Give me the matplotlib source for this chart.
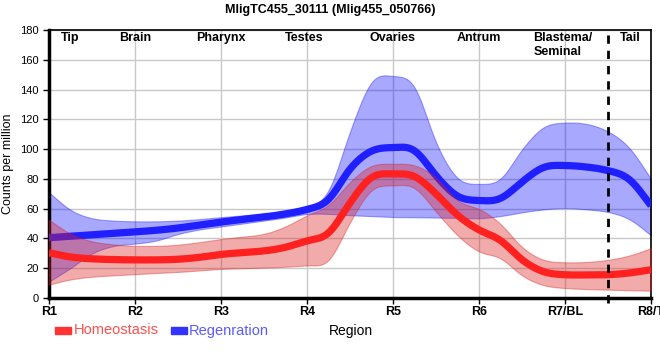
import numpy as np
import matplotlib
matplotlib.use("Agg")
import matplotlib.pyplot as plt
from matplotlib.patches import Rectangle

plt.rcParams['font.family'] = ['Liberation Sans', 'DejaVu Sans']

# posiciones (regiones, paso 0.25) y valores
pos = np.arange(1, 8.01, 0.25)

blue_mean = [40.5, 41.5, 42.5, 43.5, 44.4, 45.5, 47, 49, 51, 52.8, 54.4, 56.5, 59.5, 65.5,
             87, 99, 101, 99.6, 82, 68, 65.5, 66.5, 78, 88, 89, 88, 85.6, 80, 62]
blue_hi = [71, 59, 53.5, 52, 51.5, 51.5, 52, 53, 54.3, 55.5, 56.7, 58.5, 61, 71,
           112, 146, 149, 143, 104, 80, 76.7, 79.5, 100, 115, 117.8, 117, 112, 101, 80]
blue_lo = [11, 20, 30, 35, 36.5, 38.5, 43, 46, 48, 50, 52, 54, 56.5, 56.5,
           55.6, 55, 54.4, 54.2, 54, 53.8, 53.5, 55, 57.5, 59.5, 60.4, 59.5, 57.8, 53, 42]

red_mean = [30.4, 27.5, 26.3, 25.8, 25.6, 25.6, 26, 27.3, 29.3, 30.5, 31.6, 34, 38.5, 43,
            64, 81.5, 83.3, 82, 70, 55.5, 45.6, 39, 25.5, 17.5, 15.6, 15.5, 15.6, 16.8, 19]
red_hi = [52.5, 43, 38, 36, 35, 35, 35.8, 37.5, 39.6, 41.2, 43, 48, 55.6, 62,
          78, 89, 90, 89.3, 81, 65, 60, 50, 34, 25.5, 24, 24.2, 25.6, 28.5, 33.5]
red_lo = [9, 12.5, 14.3, 15.2, 16, 16.8, 17.5, 18.5, 19.5, 20, 20.4, 21, 22, 24.4,
          51, 73, 75.5, 74.4, 58, 42, 31, 27, 15, 8.5, 6.7, 6, 5.6, 5.2, 4.9]

tick_labels = ['R1', 'R2', 'R3', 'R4', 'R5', 'R6', 'R7/BL', 'R8/T']
regiones = ['Tip', 'Brain', 'Pharynx', 'Testes', 'Ovaries', 'Antrum', 'Blastema/\nSeminal', 'Tail']
region_x = [1.24, 2.0, 3.0, 3.97, 5.0, 6.0, 6.63, 7.76]


def suavizar(x, y, n=701, sigma=0.06):
    # curva catmull-rom + un suavizado ligero, solo para el trazo
    x = np.asarray(x, float)
    y = np.asarray(y, float)
    h = np.diff(x)
    m = np.empty_like(y)
    m[1:-1] = (y[2:] - y[:-2]) / (x[2:] - x[:-2])
    m[0] = (y[1] - y[0]) / h[0]
    m[-1] = (y[-1] - y[-2]) / h[-1]
    xs = np.linspace(x[0], x[-1], n)
    i = np.clip(np.searchsorted(x, xs) - 1, 0, len(h) - 1)
    t = (xs - x[i]) / h[i]
    ys = ((2 * t**3 - 3 * t**2 + 1) * y[i] + (t**3 - 2 * t**2 + t) * h[i] * m[i]
          + (-2 * t**3 + 3 * t**2) * y[i + 1] + (t**3 - t**2) * h[i] * m[i + 1])
    dx = xs[1] - xs[0]
    k = np.arange(-int(4 * sigma / dx), int(4 * sigma / dx) + 1) * dx
    kern = np.exp(-0.5 * (k / sigma) ** 2)
    kern /= kern.sum()
    pad = len(k) // 2
    # extender con pendiente en los bordes
    izq = ys[0] - (ys[1] - ys[0]) * np.arange(pad, 0, -1)
    der = ys[-1] + (ys[-1] - ys[-2]) * np.arange(1, pad + 1)
    ys = np.convolve(np.concatenate([izq, ys, der]), kern, mode='valid')
    return xs, ys


fig = plt.figure(figsize=(6.6, 3.6), dpi=100)
ax = fig.add_axes([49 / 660, 1 - 298 / 360, 602 / 660, 268 / 360])

xs, bm = suavizar(pos, blue_mean)
_, bh = suavizar(pos, blue_hi)
_, bl = suavizar(pos, blue_lo)
_, rm = suavizar(pos, red_mean)
_, rh = suavizar(pos, red_hi)
_, rl = suavizar(pos, red_lo)

ax.fill_between(xs, bl, bh, color='#0000ff', alpha=0.34, lw=0.8, edgecolor=(0, 0, 1, 0.35), zorder=2)
ax.plot(xs, bm, color='#1f1fff', lw=5.2, solid_capstyle='butt', zorder=3)
ax.fill_between(xs, rl, rh, color='#dd2222', alpha=0.38, lw=0.8, edgecolor=(0.85, 0.1, 0.1, 0.35), zorder=4)
ax.plot(xs, rm, color='#ff2020', lw=5.2, solid_capstyle='butt', zorder=5)

ax.axvline(7.5, ymin=-0.02, ymax=1, color='black', lw=2, ls=(0, (3, 2.5)), zorder=6, clip_on=False)

ax.set_xlim(1, 8)
ax.set_ylim(0, 180)
ax.set_xticks(range(1, 9))
ax.set_xticklabels(tick_labels, fontsize=9, fontweight='bold',
                   family=['Liberation Sans Narrow', 'Liberation Sans', 'DejaVu Sans'])
ax.set_yticks(range(0, 181, 20))
ax.tick_params(axis='y', labelsize=8, length=4, width=1)
ax.tick_params(axis='x', length=4, width=1, pad=2)
ax.grid(True, color='#c8c8c8', lw=1)
ax.set_axisbelow(True)

for lado in ['left', 'bottom']:
    ax.spines[lado].set_linewidth(2.5)
for lado in ['top', 'right']:
    ax.spines[lado].set_linewidth(1.2)

ax.set_ylabel('Counts per million', fontsize=9)
ax.yaxis.set_label_coords(-35 / 602, 0.5)

for nombre, xr in zip(regiones, region_x):
    ha = 'left' if '\n' in nombre else 'center'
    ax.text(xr, 178.5, nombre, ha=ha, va='top', fontsize=9, fontweight='bold',
            linespacing=1.15, zorder=7)

fig.text(0.5, 1 - 10 / 360, 'MligTC455_30111 (Mlig455_050766)', ha='center', va='center',
         fontsize=9, fontweight='bold')

# leyenda manual
fuente_ley = ['Liberation Sans Narrow', 'Liberation Sans', 'DejaVu Sans']
fig.patches.append(Rectangle((55 / 660, 1 - 334 / 360), 16 / 660, 7 / 360,
                             transform=fig.transFigure, color='#ff3333'))
fig.text(74 / 660, 1 - 330.5 / 360, 'Homeostasis', color='#ff5050', fontsize=10.5,
         va='center', family=fuente_ley)
fig.patches.append(Rectangle((171 / 660, 1 - 334 / 360), 16 / 660, 7 / 360,
                             transform=fig.transFigure, color='#3333ff'))
fig.text(189 / 660, 1 - 330.5 / 360, 'Regenration', color='#5a5aff', fontsize=10.5,
         va='center', family=fuente_ley)
fig.text(351 / 660, 1 - 331 / 360, 'Region', color='black', fontsize=10, ha='center',
         va='center', family=fuente_ley)

fig.savefig('out.png', dpi=100)
